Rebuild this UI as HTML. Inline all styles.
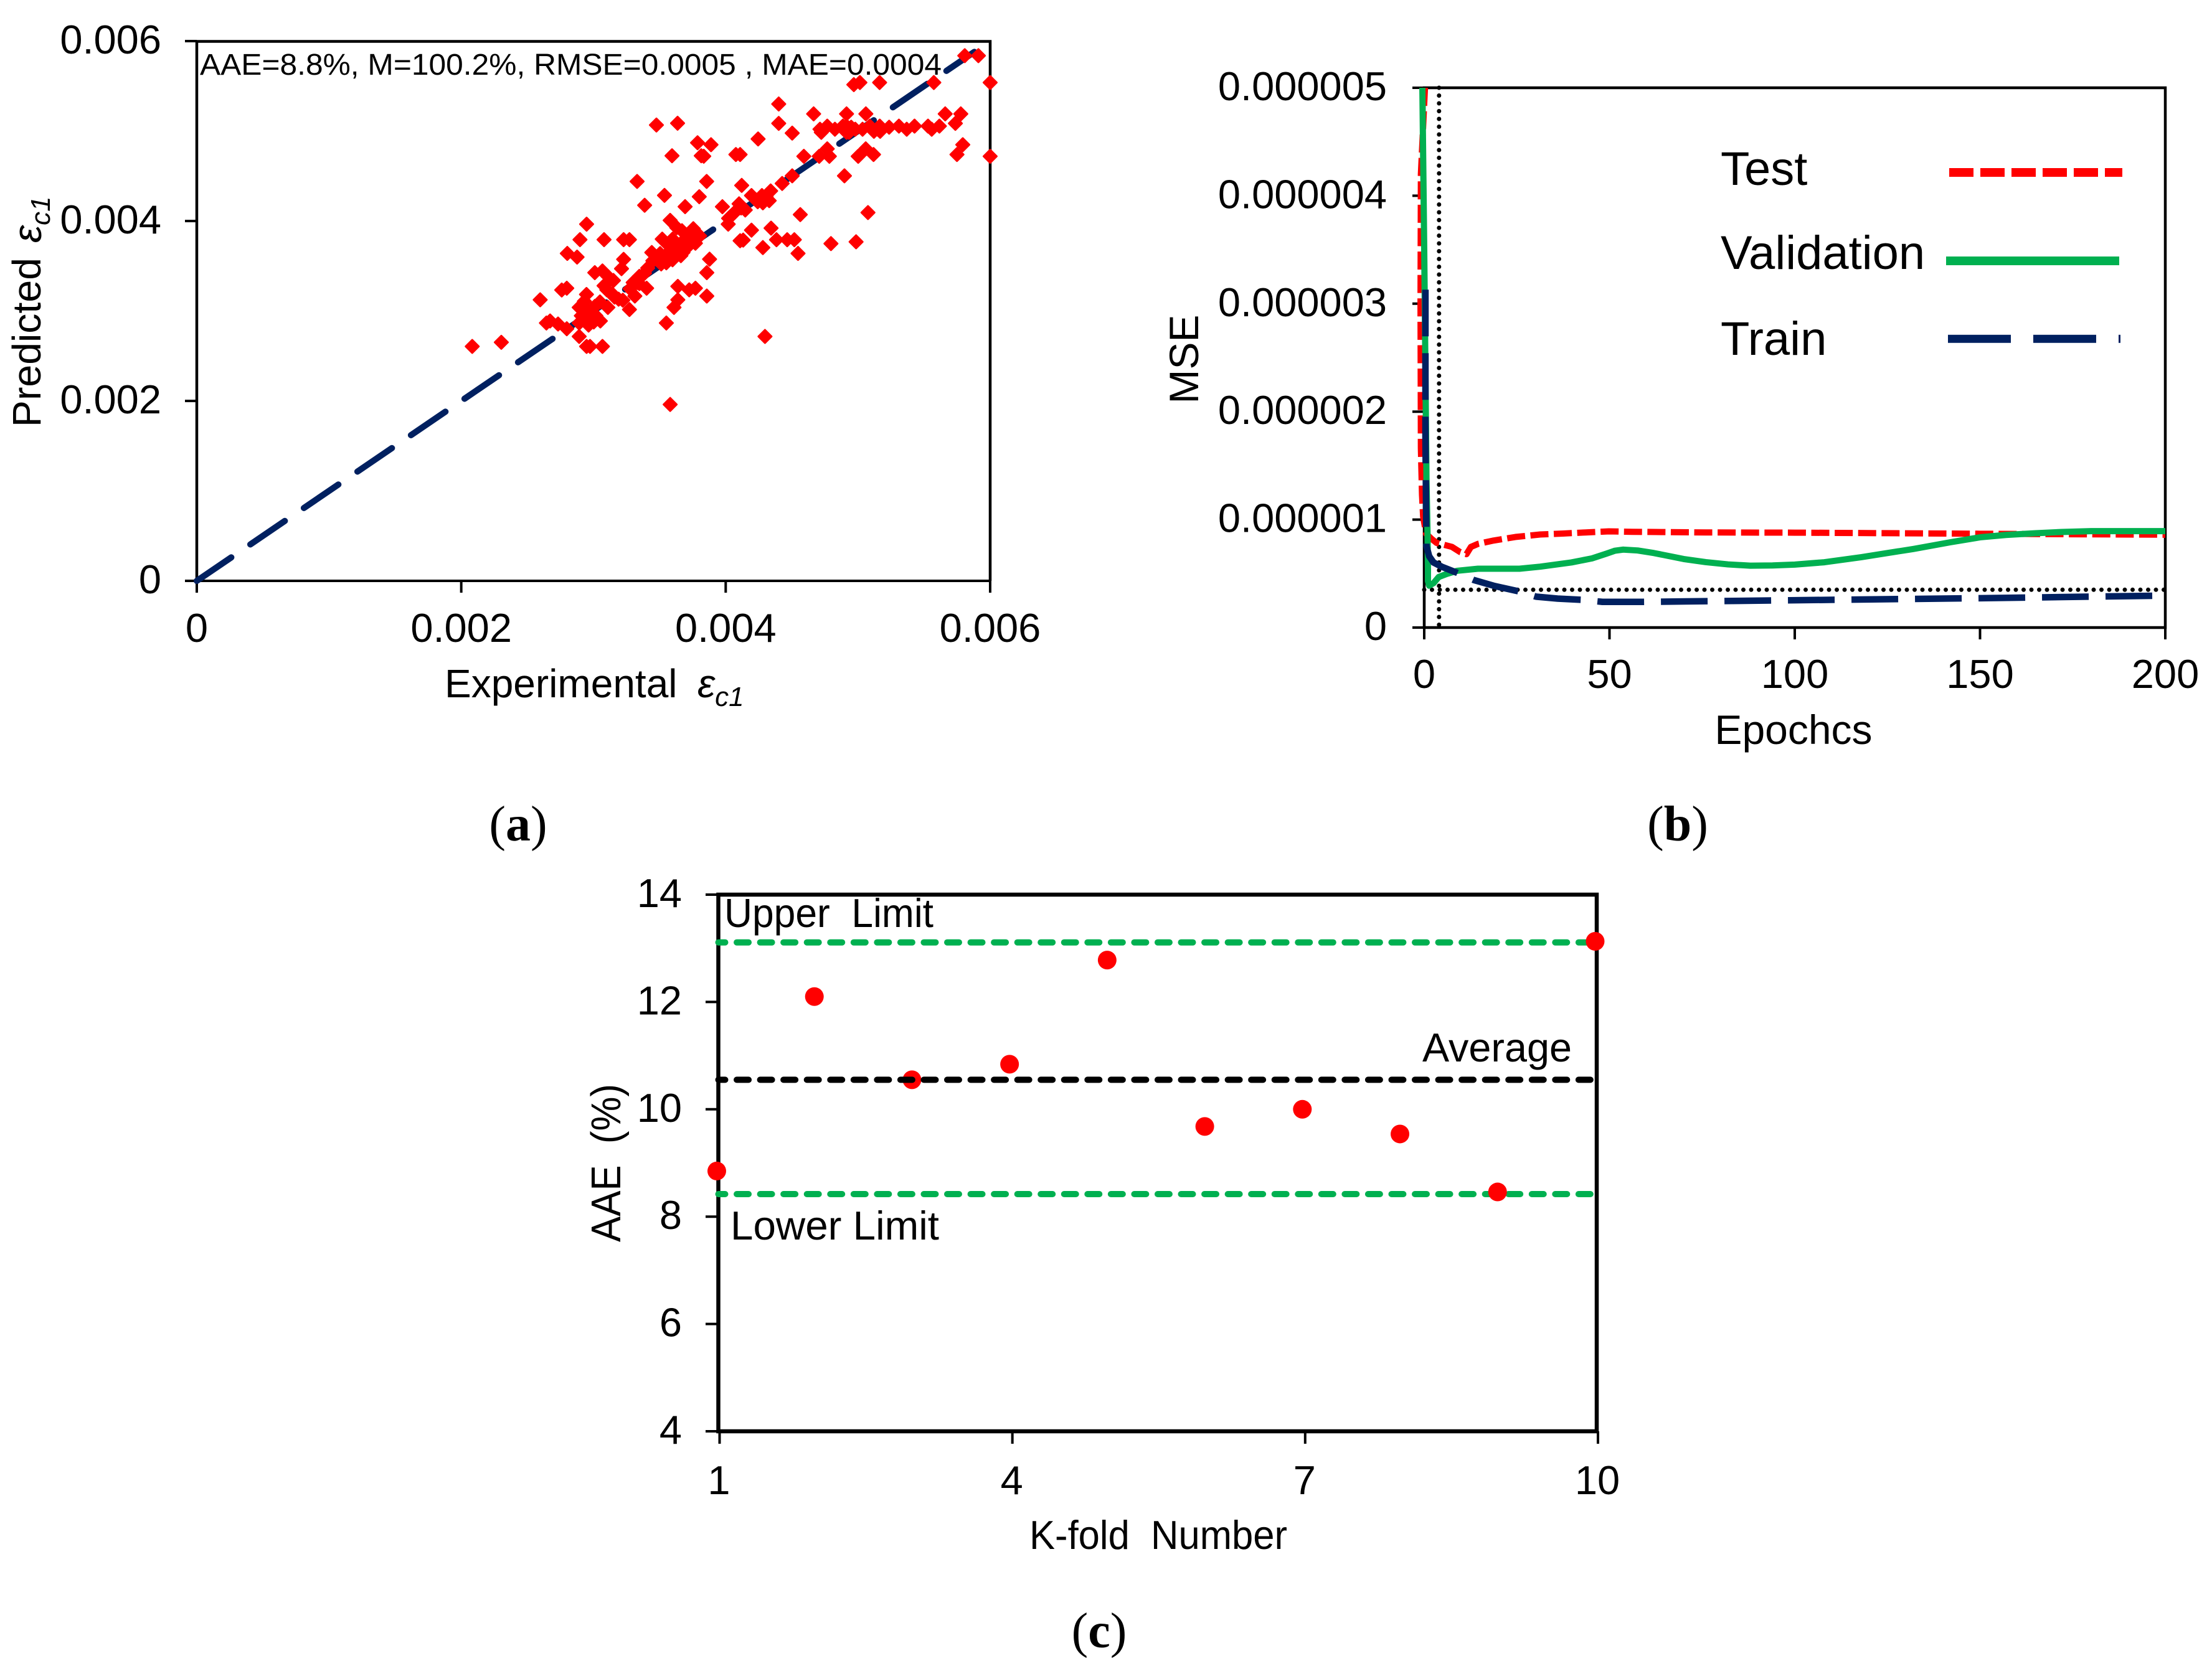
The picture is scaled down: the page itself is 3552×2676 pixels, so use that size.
<!DOCTYPE html>
<html lang="en">
<head>
<meta charset="utf-8">
<title>Model performance charts</title>
<style>
html,body{margin:0;padding:0;background:#fff;}
svg{display:block;}
text{font-family:"Liberation Sans",Arial,sans-serif;fill:#000;white-space:pre;}
.cap{font-family:"Liberation Serif",serif;font-size:80px;text-anchor:middle;}
.cap tspan{font-weight:bold;}
</style>
</head>
<body>
<svg id="figure" xmlns="http://www.w3.org/2000/svg" width="3552" height="2676" viewBox="0 0 3552 2676">
  <rect x="0" y="0" width="3552" height="2676" fill="#fff"/>

  <g id="panelA">
    <path d="M316 933V66.5H1590V933" fill="none" stroke="#000" stroke-width="4.5"/>
    <path d="M297 933H1590" fill="none" stroke="#000" stroke-width="4"/>
    <text x="714" y="1120" font-size="64">Experimental</text>
    <text x="1120" y="1120" font-size="64" font-style="italic">ε<tspan dy="14" font-size="44">c1</tspan></text>
    <text x="65" y="686" font-size="64" textLength="272" lengthAdjust="spacingAndGlyphs" transform="rotate(-90 65 686)">Predicted</text>
    <text x="66" y="390" font-size="64" font-style="italic" transform="rotate(-90 66 390)">ε<tspan dy="14" font-size="44">c1</tspan></text>
    <text class="cap" x="832" y="1350">(<tspan>a</tspan>)</text>
  </g>

  <g id="panelB">
    <rect x="2287" y="141" width="1190" height="867" fill="none" stroke="#000" stroke-width="4.5"/>
    <text x="2880" y="1195" font-size="66" text-anchor="middle">Epochcs</text>
    <text x="1924" y="577" font-size="66" text-anchor="middle" transform="rotate(-90 1924 577)">MSE</text>
    <text x="2763" y="297" font-size="76">Test</text>
    <text x="2763" y="432" font-size="76">Validation</text>
    <text x="2763" y="570" font-size="76">Train</text>
    <line x1="3130" x2="3408" y1="277" y2="277" stroke="#FF0000" stroke-width="14" stroke-dasharray="39 11"/>
    <line x1="3125" x2="3403" y1="419" y2="419" stroke="#00B050" stroke-width="14"/>
    <line x1="3128" x2="3405" y1="544.3" y2="544.3" stroke="#002060" stroke-width="13" stroke-dasharray="101 36"/>
    <text class="cap" x="2694" y="1350">(<tspan>b</tspan>)</text>
  </g>

  <g id="panelC">
    <rect x="1153.5" y="1437" width="1410.5" height="862" fill="none" stroke="#000" stroke-width="6.5"/>
    <text x="1163" y="1489" font-size="65" textLength="336" lengthAdjust="spacingAndGlyphs">Upper  Limit</text>
    <text x="2284" y="1705" font-size="65" textLength="240" lengthAdjust="spacingAndGlyphs">Average</text>
    <text x="1173" y="1991" font-size="65" textLength="335" lengthAdjust="spacingAndGlyphs">Lower Limit</text>
    <text x="1653" y="2488" font-size="65" textLength="414" lengthAdjust="spacingAndGlyphs">K-fold  Number</text>
    <text x="996" y="1995" font-size="67" textLength="254" lengthAdjust="spacingAndGlyphs" transform="rotate(-90 996 1995)">AAE  (%)</text>
    <text class="cap" x="1765" y="2646">(<tspan>c</tspan>)</text>
  </g>
</svg>

<script>
// ---------- Panel (a) data: values in units of 0.001 strain ----------
const aTickValues = [0, 2, 4, 6];
const aTickLabels = ['0', '0.002', '0.004', '0.006'];
const aAnnotation = 'AAE=8.8%, M=100.2%, RMSE=0.0005 , MAE=0.0004';
const aParityEnd = [0, 5.88];
const aExperimental = [
2.083,2.303,2.948,2.898,3.080,3.228,3.272,2.802,2.876,3.228,3.212,3.010,3.068,3.112,3.151,3.080,3.101,3.143,2.798,2.760,
2.597,2.947,2.931,2.892,3.049,3.010,3.109,3.222,3.272,2.644,2.672,2.732,2.798,2.892,2.939,2.963,3.002,3.052,2.892,2.948,
2.974,3.068,3.551,3.580,4.297,3.300,3.347,3.402,3.313,3.386,3.277,3.449,3.481,3.512,3.551,3.441,3.520,3.580,3.630,3.669,
3.598,3.646,3.755,3.771,3.724,3.693,3.630,3.567,3.504,3.598,3.677,3.803,3.708,3.857,3.638,3.724,3.771,3.857,3.638,3.609,
4.969,5.015,5.164,5.574,5.808,5.911,6.000,4.401,4.665,4.914,5.060,5.660,5.778,4.401,4.503,4.245,3.889,4.077,4.109,4.591,
4.768,4.707,4.784,5.059,5.002,5.118,5.793,5.749,6.000,5.737,4.898,4.503,4.427,4.121,3.856,4.340,4.195,4.274,4.329,4.281,
4.242,3.975,4.117,4.070,4.022,4.019,4.564,5.076,4.195,4.343,4.109,4.132,4.384,4.465,4.519,4.281,4.547,4.796,4.986,3.878,
4.713,4.723,4.768,4.826,4.886,4.914,4.914,4.933,4.980,5.035,5.090,5.150,5.165,5.236,5.310,5.369,5.428,5.530,5.558,5.616,
4.949,5.168,5.121,3.476,3.636,3.787,3.594,3.815,3.330,3.537,3.800,3.387,3.693,3.834,
3.410,3.567,3.630,3.708,3.740,3.567,3.661,3.771,3.347,3.332,2.908,2.955,3.018,2.970,2.923,3.159,3.190,4.101,4.038,4.148,4.227,4.305
];
const aPredicted = [
2.606,2.652,3.965,3.793,3.793,3.793,3.793,3.640,3.599,3.574,3.470,3.426,3.445,3.380,3.339,3.281,3.235,3.189,3.253,3.233,
3.124,3.184,3.108,3.039,3.101,3.051,3.039,3.120,3.016,2.866,2.889,2.855,2.802,2.866,2.901,2.843,2.878,2.889,2.717,2.606,
2.606,2.606,2.866,1.961,2.717,3.316,3.304,3.253,3.166,3.419,3.247,3.558,3.569,3.523,3.535,3.650,3.799,4.007,3.926,3.892,
3.799,3.730,3.915,3.753,3.799,3.799,3.638,3.650,3.638,3.569,3.650,3.834,3.707,3.426,3.274,3.235,3.253,3.166,3.124,3.039,
5.516,5.539,5.539,5.539,5.838,5.838,5.539,5.301,5.191,5.191,5.191,5.191,5.191,5.085,4.977,4.912,4.848,4.739,4.739,4.719,
4.802,4.719,4.719,4.802,4.719,4.739,4.848,4.739,4.719,5.085,4.502,4.502,4.417,4.396,4.440,4.334,4.283,4.283,4.226,4.202,
4.214,4.159,4.145,4.099,4.030,3.965,4.071,4.094,3.898,3.921,3.781,3.788,3.792,3.792,3.792,3.705,3.640,3.749,3.769,3.576,
5.020,4.986,5.055,5.020,5.055,5.055,4.986,4.986,5.020,5.020,5.055,5.020,5.055,5.043,5.055,5.020,5.055,5.055,5.020,5.055,
5.043,4.997,4.997,5.067,5.087,4.870,4.725,4.725,4.440,4.285,4.270,4.175,4.160,4.720,
3.477,3.592,3.707,3.800,3.846,3.730,3.615,3.869,3.385,3.316,2.947,2.924,2.947,2.993,3.016,3.154,3.131,4.191,4.053,4.122,4.237,4.272
];

// ---------- Panel (b) data: MSE in units of 0.000001 ----------
const bXTicks = [0, 50, 100, 150, 200];
const bYTicks = [0, 1, 2, 3, 4, 5];
const bYTickLabels = ['0', '0.000001', '0.000002', '0.000003', '0.000004', '0.000005'];
const bBestEpoch = 4;
const bBestMse = 0.35;
const testEpochs = [0.2,-0.9,-1.0,-0.9,-0.6,-0.3,0.5,1.9,3.3,7.5,9.7,11.4,12.6,14.5,18.4,24.6,31.3,37.5,43.6,49.8,56,62.4,76,100,150,200];
const testMse = [5,4.2,3,1.66,1.23,1.03,0.87,0.824,0.785,0.747,0.699,0.68,0.747,0.775,0.804,0.839,0.862,0.871,0.881,0.891,0.887,0.885,0.881,0.879,0.869,0.86];
const validationEpochs = [-0.5,0,0.5,0.6,0.9,1.0,1.0,1.34,2.5,3.9,6.1,8.9,14.5,25.7,31.3,39.7,45.3,49.2,51.5,53.7,57.6,62,70,76,82,88,94,100,108,118,125,132,142,150,157,165,172,180,200];
const validationMse = [5,3.5,1.77,1.39,0.852,0.545,0.43,0.388,0.411,0.468,0.497,0.526,0.545,0.545,0.564,0.603,0.641,0.685,0.712,0.722,0.714,0.69,0.635,0.606,0.585,0.573,0.575,0.583,0.605,0.652,0.69,0.728,0.79,0.836,0.858,0.874,0.885,0.893,0.893];
const trainEpochs = [0.33,0.33,0.6,1.34,2.5,4.7,8.9,13.4,19,25.7,30.2,36,42.5,48.1,59.3,70.5,100,150,198];
const trainMse = [3.13,1.77,0.756,0.66,0.603,0.564,0.507,0.44,0.385,0.334,0.286,0.268,0.257,0.238,0.238,0.242,0.253,0.272,0.295];

// ---------- Panel (c) data ----------
const cXTicks = [1, 4, 7, 10];
const cYTicks = [4, 6, 8, 10, 12, 14];
const cFolds = [1, 2, 3, 4, 5, 6, 7, 8, 9, 10];
const cAae = [8.85, 12.1, 10.55, 10.84, 12.78, 9.68, 10.0, 9.54, 8.46, 13.13];
const cUpperLimit = 13.11;
const cAverage = 10.55;
const cLowerLimit = 8.42;

// ---------- Axis functions ----------
const ax = v => 316 + v * 212.33;
const ay = v => 933 - v * 144.5;
const bx = v => 2287 + v * 5.95;
const by = v => 1008 - v * 173.4;
const cx = v => 1153.5 + (v - 1) * 156.72;
const cy = v => 2299 - (v - 4) * 86.2;

const NS = 'http://www.w3.org/2000/svg';
function mk(tag, attrs, parent, txt) {
  const n = document.createElementNS(NS, tag);
  for (const k in attrs) n.setAttribute(k, attrs[k]);
  if (txt !== undefined) n.textContent = txt;
  parent.appendChild(n);
  return n;
}
const panelA = document.getElementById('panelA');
const panelB = document.getElementById('panelB');
const panelC = document.getElementById('panelC');
const FS = 65;
let el;

// ---------- Panel (a) ----------
aTickValues.forEach((v, i) => {
  el = mk('line', {x1: ax(v), x2: ax(v), y1: 933, y2: 952, stroke: '#000', 'stroke-width': 4}, panelA);
  
  
  el = mk('text', {x: ax(v), y: 1031, 'font-size': FS, 'text-anchor': 'middle'}, panelA, aTickLabels[i]);
  
  
  el = mk('line', {x1: 297, x2: 316, y1: ay(v), y2: ay(v), stroke: '#000', 'stroke-width': 4}, panelA);
  
  
  el = mk('text', {x: 259, y: ay(v) + 20, 'font-size': FS, 'text-anchor': 'end'}, panelA, aTickLabels[i]);
  
  
});
el = mk('line', {x1: ax(aParityEnd[0]), y1: ay(aParityEnd[0]), x2: ax(aParityEnd[1]), y2: ay(aParityEnd[1]),
  stroke: '#002060', 'stroke-width': 10, 'stroke-linecap': 'round', 'stroke-dasharray': '67 37'}, panelA);


el = mk('text', {x: 321, y: 120, 'font-size': 48, textLength: 1191, lengthAdjust: 'spacingAndGlyphs'}, panelA, aAnnotation);


aExperimental.forEach((v, i) => {
  const px = ax(v), py = ay(aPredicted[i]), h = 10.5;
  el = mk('path', {d: 'M' + px + ' ' + (py - h) + 'L' + (px + h) + ' ' + py + 'L' + px + ' ' + (py + h) + 'L' + (px - h) + ' ' + py + 'Z',
    fill: '#FF0000', stroke: '#FF0000', 'stroke-width': 3, 'stroke-linejoin': 'round'}, panelA);
  
  
});

// ---------- Panel (b) ----------
bXTicks.forEach(v => {
  el = mk('line', {x1: bx(v), x2: bx(v), y1: 1008, y2: 1027, stroke: '#000', 'stroke-width': 4}, panelB);
  
  
  el = mk('text', {x: bx(v), y: 1105, 'font-size': FS, 'text-anchor': 'middle'}, panelB, String(v));
  
  
});
bYTicks.forEach((v, i) => {
  el = mk('line', {x1: 2268, x2: 2287, y1: by(v), y2: by(v), stroke: '#000', 'stroke-width': 4}, panelB);
  
  
  el = mk('text', {x: 2227, y: by(v) + 20, 'font-size': FS, 'text-anchor': 'end'}, panelB, bYTickLabels[i]);
  
  
});
el = mk('line', {x1: bx(bBestEpoch), x2: bx(bBestEpoch), y1: by(5), y2: by(0), stroke: '#000', 'stroke-width': 7,
  'stroke-linecap': 'round', 'stroke-dasharray': '0 12.5'}, panelB);


el = mk('line', {x1: bx(0), x2: bx(200), y1: by(bBestMse), y2: by(bBestMse), stroke: '#000', 'stroke-width': 7,
  'stroke-linecap': 'round', 'stroke-dasharray': '0 12.5'}, panelB);


const linePts = (xs, ys) => xs.map((v, i) => bx(v) + ',' + by(ys[i])).join(' ');
el = mk('polyline', {points: linePts(testEpochs, testMse), fill: 'none', stroke: '#FF0000', 'stroke-width': 10,
  'stroke-dasharray': '29 8.6', 'stroke-linejoin': 'round'}, panelB);


el = mk('polyline', {points: linePts(validationEpochs, validationMse), fill: 'none', stroke: '#00B050', 'stroke-width': 10,
  'stroke-linejoin': 'round'}, panelB);


el = mk('polyline', {points: linePts(trainEpochs, trainMse), fill: 'none', stroke: '#002060', 'stroke-width': 10.5,
  'stroke-dasharray': '75 27', 'stroke-linejoin': 'round'}, panelB);



// ---------- Panel (c) ----------
cXTicks.forEach(v => {
  el = mk('line', {x1: cx(v) + 2, x2: cx(v) + 2, y1: 2299, y2: 2319, stroke: '#000', 'stroke-width': 4}, panelC);
  
  
  el = mk('text', {x: cx(v) + 1, y: 2400, 'font-size': FS, 'text-anchor': 'middle'}, panelC, String(v));
  
  
});
cYTicks.forEach(v => {
  el = mk('line', {x1: 1133, x2: 1153, y1: cy(v), y2: cy(v), stroke: '#000', 'stroke-width': 4}, panelC);
  
  
  el = mk('text', {x: 1095, y: cy(v) + 20, 'font-size': FS, 'text-anchor': 'end'}, panelC, String(v));
  
  
});
el = mk('line', {x1: cx(1), x2: cx(10), y1: cy(cUpperLimit), y2: cy(cUpperLimit), stroke: '#00B050', 'stroke-width': 10,
  'stroke-linecap': 'round', 'stroke-dasharray': '19 18.55', 'stroke-dashoffset': 8}, panelC);


el = mk('line', {x1: cx(1), x2: cx(10), y1: cy(cLowerLimit), y2: cy(cLowerLimit), stroke: '#00B050', 'stroke-width': 10,
  'stroke-linecap': 'round', 'stroke-dasharray': '19 18.55', 'stroke-dashoffset': 8}, panelC);


cFolds.forEach((v, i) => {
  el = mk('circle', {cx: cx(v) - 2.5, cy: cy(cAae[i]), r: 15, fill: '#FF0000'}, panelC);
  
  
});
el = mk('line', {x1: cx(1), x2: cx(10), y1: cy(cAverage), y2: cy(cAverage), stroke: '#000', 'stroke-width': 10,
  'stroke-linecap': 'round', 'stroke-dasharray': '19 18.55', 'stroke-dashoffset': 8}, panelC);


</script>
</body>
</html>
